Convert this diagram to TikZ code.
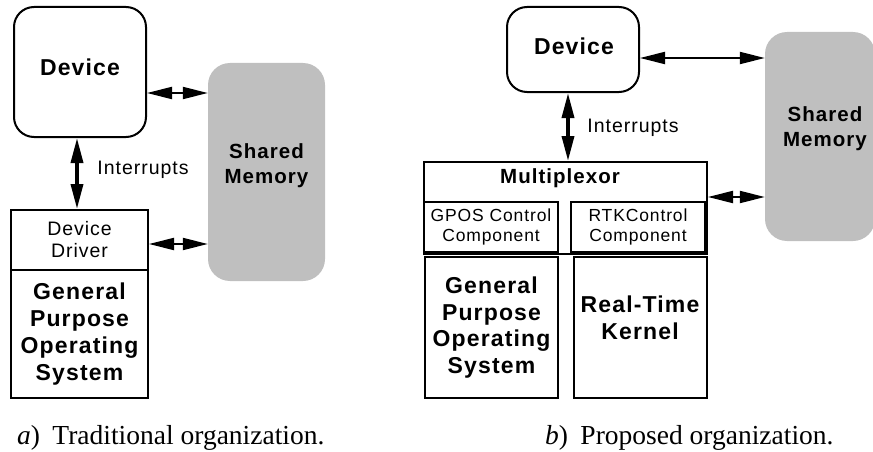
\documentclass[tikz,border=0pt]{standalone}
\usepackage{fontspec}
\setmainfont{Liberation Serif}
\setsansfont{Liberation Sans}[LetterSpace=5]
\usetikzlibrary{arrows.meta}
\definecolor{smgray}{RGB}{191,191,191}
\begin{document}
\begin{tikzpicture}[x=1pt,y=-1pt,
  box/.style={draw, line width=2pt, inner sep=0pt},
  rbox/.style={box, rounded corners=20pt},
  mem/.style={fill=smgray, rounded corners=22pt, inner sep=0pt},
  bigb/.style={font=\sffamily\bfseries\fontsize{23}{26.7}\selectfont, align=center},
  midb/.style={font=\sffamily\bfseries\fontsize{20.5}{25}\selectfont, align=center},
  reg/.style={font=\sffamily\fontsize{19.5}{22}\selectfont, align=center},
  smalltxt/.style={font=\sffamily\fontsize{17.5}{20.5}\selectfont, align=center},
  captxt/.style={font=\fontsize{27.5}{30}\selectfont, anchor=base west, inner sep=0pt},
  harr/.style={{Triangle[length=25pt,width=12pt]}-{Triangle[length=25pt,width=12pt]}, line width=2pt},
  varr/.style={{Triangle[length=25pt,width=12pt]}-{Triangle[length=25pt,width=12pt]}, line width=3.5pt},
]
\useasboundingbox (0,0) rectangle (873,452);
% ---------- a) traditional ----------
\node[rbox, minimum width=132pt, minimum height=130pt] (devA) at (80,72) {};
\node[bigb] (devAt) at (80,67) {Device};
\node[mem, minimum width=117pt, minimum height=218pt] (smA) at (266.5,172) {};
\node[midb] (smAt) at (266.5,165.5) {Shared\\Memory};
\node[box, reg, minimum width=137pt, minimum height=60pt] (drvA) at (79.5,240) {Device\\Driver};
\node[box, bigb, minimum width=137pt, minimum height=128pt] (gposA) at (79.5,334) {General\\Purpose\\Operating\\System};
\node[reg] (intA) at (143,170) {Interrupts};
\coordinate (xA) at (77,0);
\coordinate (yA1) at (0,93);
\coordinate (yA2) at (0,244);
\draw[varr] (devA.south -| xA) -- (drvA.north -| xA);
\draw[harr] (devA.east |- yA1) -- (smA.west |- yA1);
\draw[harr] (drvA.east |- yA2) -- (smA.west |- yA2);
% ---------- b) proposed ----------
\node[rbox, minimum width=132pt, minimum height=85pt] (devB) at (573,49.5) {};
\node[bigb] (devBt) at (574,46) {Device};
\node[mem, minimum width=110pt, minimum height=209pt] (smB) at (820,136.5) {};
\node[midb] (smBt) at (825,128.5) {Shared\\Memory};
\node[box, minimum width=283pt, minimum height=92pt] (mux) at (565.5,208) {};
\node[midb] (muxt) at (560,178) {Multiplexor};
\node[box, smalltxt, minimum width=134pt, minimum height=50pt] (gposc) at (491,227) {GPOS Control\\Component};
\node[box, smalltxt, minimum width=134pt, minimum height=50pt] (rtkc) at (638,227) {RTKControl\\Component};
\node[box, bigb, minimum width=133pt, minimum height=141pt] (gposB) at (491.5,327.5) {General\\Purpose\\Operating\\System};
\node[box, minimum width=133pt, minimum height=141pt] (rtkB) at (640.5,327.5) {};
\node[bigb] (rtkBt) at (640,318) {Real-Time\\Kernel};
\node[reg] (intB) at (633,128) {Interrupts};
\coordinate (xB) at (568,0);
\coordinate (yB1) at (0,58);
\coordinate (yB2) at (0,197);
\draw[varr] (devB.south -| xB) -- (mux.north -| xB);
\draw[harr] (devB.east |- yB1) -- (smB.west |- yB1);
\draw[harr] (mux.east |- yB2) -- (smB.west |- yB2);
% ---------- captions ----------
\node[captxt] (capA) at (17,444) {\textit{a})\hspace{0.45em}Traditional organization.};
\node[captxt] (capB) at (545,444) {\textit{b})\hspace{0.45em}Proposed organization.};
\end{tikzpicture}
\end{document}
